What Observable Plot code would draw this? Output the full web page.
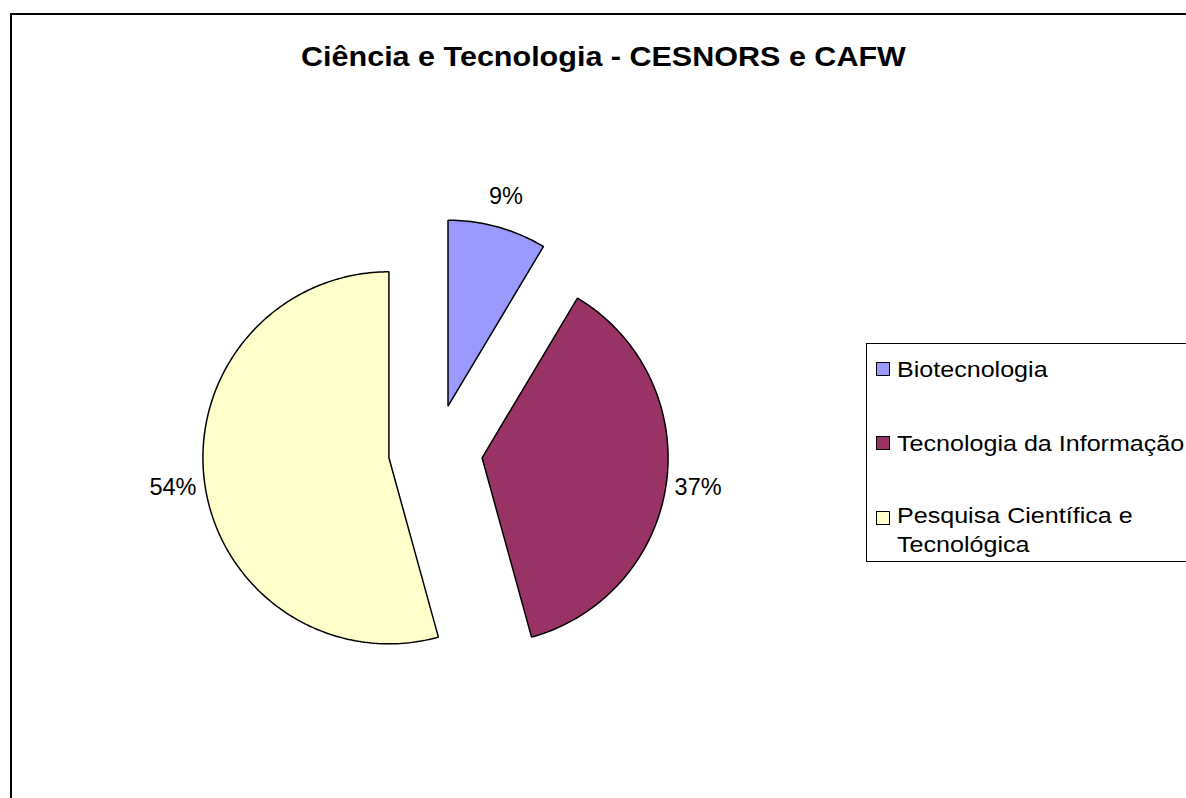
<!DOCTYPE html>
<html>
<head>
<meta charset="utf-8">
<script src="https://cdn.jsdelivr.net/npm/d3@7"></script>
<script src="https://cdn.jsdelivr.net/npm/@observablehq/plot@0.6"></script>
<style>
  html, body { margin: 0; padding: 0; background: #fff; overflow: hidden; width: 1186px; height: 798px; }
  body { position: relative; font-family: Arial, "Liberation Sans", sans-serif; }
  #chart { position: absolute; left: 0; top: 0; }
  #frame { position: absolute; left: 10px; top: 13px; width: 1300px; height: 900px; border-top: 2px solid #000; border-left: 2px solid #000; pointer-events: none; }
  #title { position: absolute; left: 0; width: 1206px; top: 43px; text-align: center; font-size: 28px; line-height: 28px; font-weight: bold; color: #000; white-space: nowrap; }
  #title span { display: inline-block; transform: scaleX(1.09); transform-origin: center; }
  #legendbox { position: absolute; left: 866px; top: 343px; width: 400px; height: 217px; border: 1.5px solid #000; background: #fff; }
  .sw { position: absolute; left: 876px; width: 12px; height: 12px; border: 1px solid #000; }
  .lt { position: absolute; left: 897px; font-size: 22px; line-height: 22px; color: #000; white-space: nowrap; transform: scaleX(1.14); transform-origin: left; }
</style>
</head>
<body>
<div id="chart"></div>
<div id="title"><span>Ciência e Tecnologia - CESNORS e CAFW</span></div>
<div id="legendbox"></div>
<div id="legend"></div>
<div id="frame"></div>
<script>
// ---- data ----
const categories = ["Biotecnologia", "Tecnologia da Informação", "Pesquisa Científica e Tecnológica"];
const values = [3, 13, 19];
const colors = ["#9999FF", "#993366", "#FFFFCC"];
const legendLines = [["Biotecnologia"], ["Tecnologia da Informação"], ["Pesquisa Científica e", "Tecnológica"]];

// ---- layout ----
const W = 1186, H = 798;
const R = 186, cx = 435, cy = 451;
const explode = 47 / R;
const labelDist = 265 / R;

const total = d3.sum(values);
const arcs = d3.pie().sort(null).value(d => d)(values);

// build slice outlines in unit-circle coordinates (angle clockwise from top)
const slicePts = [];
const labelRows = [];
arcs.forEach((a, i) => {
  const mid = (a.startAngle + a.endAngle) / 2;
  const ox = explode * Math.sin(mid), oy = explode * Math.cos(mid);
  slicePts.push({cat: categories[i], x: ox, y: oy});
  const steps = Math.max(2, Math.ceil((a.endAngle - a.startAngle) / (Math.PI / 180)));
  for (let k = 0; k <= steps; k++) {
    const t = a.startAngle + (a.endAngle - a.startAngle) * k / steps;
    slicePts.push({cat: categories[i], x: ox + Math.sin(t), y: oy + Math.cos(t)});
  }
  labelRows.push({
    cat: categories[i],
    x: labelDist * Math.sin(mid),
    y: labelDist * Math.cos(mid),
    text: Math.round(values[i] / total * 100) + "%"
  });
});

const plot = Plot.plot({
  width: W,
  height: H,
  margin: 0,
  style: {background: "transparent", fontFamily: "Arial, 'Liberation Sans', sans-serif"},
  x: {domain: [-cx / R, (W - cx) / R], range: [0, W], axis: null},
  y: {domain: [-(H - cy) / R, cy / R], range: [H, 0], axis: null},
  color: {domain: categories, range: colors},
  marks: [
    Plot.line(slicePts, {x: "x", y: "y", z: "cat", fill: "cat", stroke: "#000", strokeWidth: 1.5, curve: "linear-closed", strokeLinejoin: "miter"}),
    Plot.text(labelRows, {x: "x", y: "y", text: "text", fontSize: 23.5, fill: "#000"})
  ]
});
document.getElementById("chart").appendChild(plot);

// legend
const legend = document.getElementById("legend");
const swTop = [362, 436, 511];
const textTops = [358.5, 432.5, 501];
categories.forEach((c, i) => {
  const sw = document.createElement("div");
  sw.className = "sw";
  sw.style.top = swTop[i] + "px";
  sw.style.background = colors[i];
  legend.appendChild(sw);
  const t = document.createElement("div");
  t.className = "lt";
  t.style.top = textTops[i] + "px";
  if (legendLines[i].length > 1) t.style.lineHeight = "29px";
  t.innerHTML = legendLines[i].join("<br>");
  legend.appendChild(t);
});
</script>
</body>
</html>
